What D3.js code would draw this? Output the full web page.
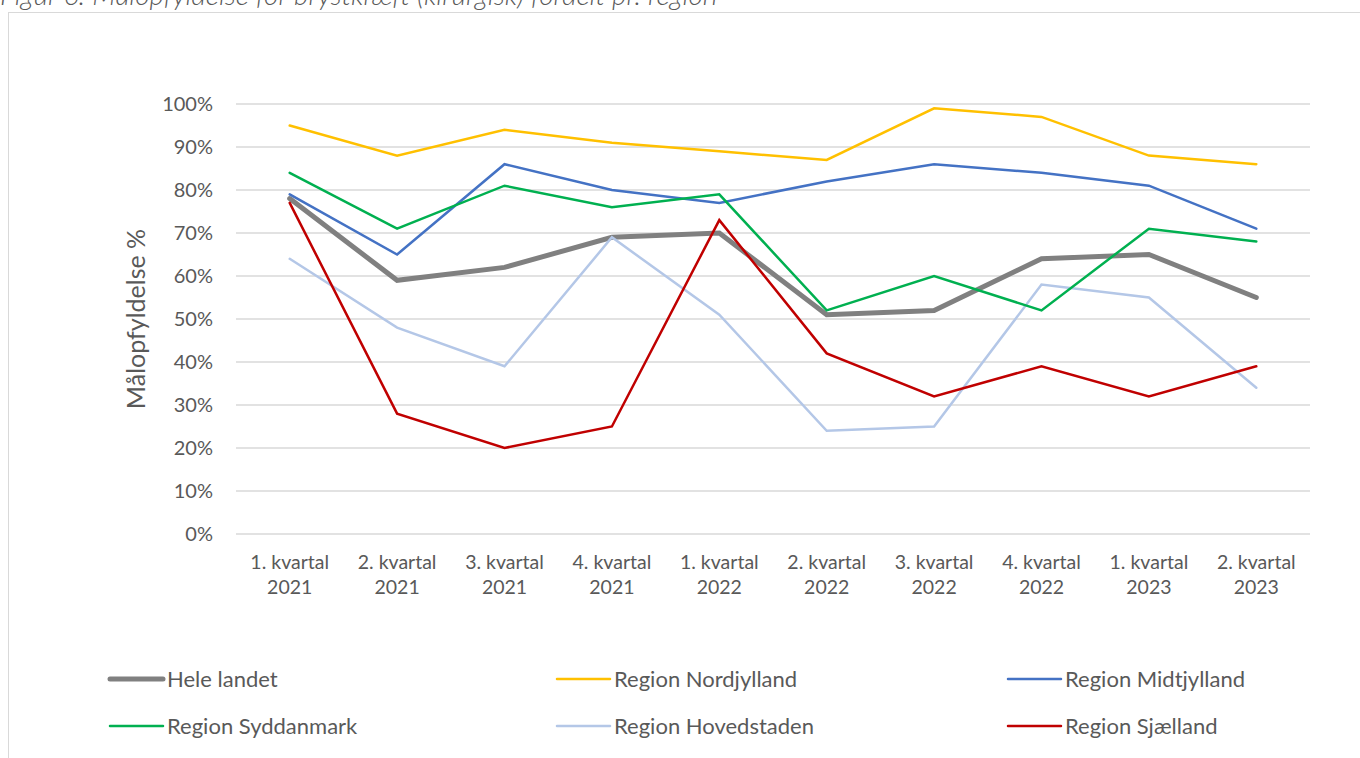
<!DOCTYPE html>
<html>
<head>
<meta charset="utf-8">
<script src="https://cdn.jsdelivr.net/npm/d3@7"></script>
<style>
  body { margin: 0; background: #fff; }
  svg text { font-family: Lato, "Open Sans", sans-serif; fill: #595959; }
</style>
</head>
<body>
<div id="chart"></div>
<script>
// quarters on the x axis (two lines each)
var quarters = ["1. kvartal|2021", "2. kvartal|2021", "3. kvartal|2021", "4. kvartal|2021",
  "1. kvartal|2022", "2. kvartal|2022", "3. kvartal|2022", "4. kvartal|2022",
  "1. kvartal|2023", "2. kvartal|2023"];

var seriesNames = ["Hele landet", "Region Nordjylland", "Region Midtjylland",
  "Region Syddanmark", "Region Hovedstaden", "Region Sjælland"];

// values in percent
var heleLandet   = [78, 59, 62, 69, 70, 51, 52, 64, 65, 55];
var nordjylland  = [95, 88, 94, 91, 89, 87, 99, 97, 88, 86];
var midtjylland  = [79, 65, 86, 80, 77, 82, 86, 84, 81, 71];
var syddanmark   = [84, 71, 81, 76, 79, 52, 60, 52, 71, 68];
var hovedstaden  = [64, 48, 39, 69, 51, 24, 25, 58, 55, 34];
var sjaelland    = [77, 28, 20, 25, 73, 42, 32, 39, 32, 39];

var yTicks = [0, 10, 20, 30, 40, 50, 60, 70, 80, 90, 100];

var colors = ["#808080", "#FFC000", "#4472C4", "#00B050", "#B4C7E7", "#C00000"];
var widths = [5, 2.5, 2.5, 2.5, 2.5, 2.5];

var series = [heleLandet, nordjylland, midtjylland, syddanmark, hovedstaden, sjaelland];

var W = 1360, H = 758;
var margin = {top: 104, right: 50, bottom: 224, left: 236};
var width = W - margin.left - margin.right,
    height = H - margin.top - margin.bottom;

var svg = d3.select("#chart").append("svg")
  .attr("width", W)
  .attr("height", H);

// title, mostly cut off at the top like in the original
svg.append("text")
  .attr("x", 0)
  .attr("y", 5)
  .attr("font-size", "28px")
  .attr("font-style", "italic")
  .attr("font-weight", 300)
  .text("Figur 6: Målopfyldelse for brystkræft (kirurgisk) fordelt pr. region");

// chart frame
svg.append("rect")
  .attr("x", 8.5).attr("y", 12.5)
  .attr("width", 1400).attr("height", 800)
  .attr("fill", "none")
  .attr("stroke", "#d9d9d9")
  .attr("stroke-width", 1);

var g = svg.append("g")
  .attr("transform", "translate(" + margin.left + "," + margin.top + ")");

var x = d3.scaleBand()
  .domain(quarters)
  .range([0, width]);

var y = d3.scaleLinear()
  .domain([0, 100])
  .range([height, 0]);

// gridlines
g.selectAll(".grid")
  .data(yTicks)
  .enter().append("line")
  .attr("x1", 0).attr("x2", width)
  .attr("y1", function(d) { return y(d); })
  .attr("y2", function(d) { return y(d); })
  .attr("stroke", "#d9d9d9")
  .attr("stroke-width", 1.5);

// y axis
var yAxis = g.append("g")
  .call(d3.axisLeft(y).tickValues(yTicks).tickSize(0).tickPadding(23)
    .tickFormat(function(d) { return d + "%"; }));
yAxis.select(".domain").remove();
yAxis.selectAll("text").attr("font-size", "20px").attr("fill", "#595959")
  .attr("font-family", "Lato, sans-serif");

// x axis
var xAxis = g.append("g")
  .attr("transform", "translate(0," + height + ")")
  .call(d3.axisBottom(x).tickSize(0).tickFormat(""));
xAxis.select(".domain").remove();
xAxis.selectAll(".tick").each(function(d) {
  var parts = d.split("|");
  var t = d3.select(this).append("text")
    .attr("text-anchor", "middle")
    .attr("font-size", "19.5px")
    .attr("fill", "#595959");
  t.append("tspan").attr("x", 0).attr("y", 35).text(parts[0]);
  t.append("tspan").attr("x", 0).attr("y", 60).text(parts[1]);
});

// y axis label
svg.append("text")
  .attr("transform", "translate(145," + (margin.top + height / 2) + ") rotate(-90)")
  .attr("text-anchor", "middle")
  .attr("font-size", "25px")
  .text("Målopfyldelse %");

// lines
var line = d3.line()
  .x(function(d, i) { return x(quarters[i]) + x.bandwidth() / 2; })
  .y(function(d) { return y(d); });

// gray beneath the others
var order = [0, 4, 1, 2, 3, 5];
order.forEach(function(k) {
  g.append("path")
    .datum(series[k])
    .attr("fill", "none")
    .attr("stroke", colors[k])
    .attr("stroke-width", widths[k])
    .attr("stroke-linejoin", "miter")
    .attr("stroke-linecap", "round")
    .attr("d", line);
});

// legend
var legX = [110, 557, 1008], legY = [679, 726];
seriesNames.forEach(function(name, k) {
  var lx = legX[k % 3], ly = legY[Math.floor(k / 3)];
  svg.append("line")
    .attr("x1", lx).attr("x2", lx + 53)
    .attr("y1", ly).attr("y2", ly)
    .attr("stroke", colors[k])
    .attr("stroke-width", widths[k])
    .attr("stroke-linecap", "round");
  svg.append("text")
    .attr("x", lx + 57)
    .attr("y", ly + 8)
    .attr("font-size", "22px")
    .text(name);
});
</script>
</body>
</html>
